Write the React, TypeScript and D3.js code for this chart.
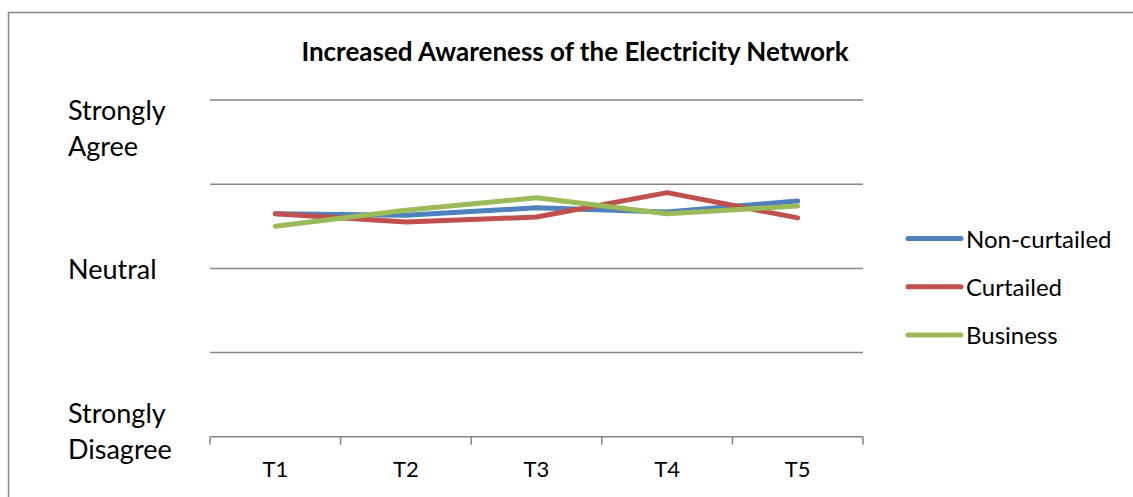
import React, { useEffect, useRef } from "react";
import * as d3 from "d3";

const categories = ["T1", "T2", "T3", "T4", "T5"];
const nonCurtailed = [3.65, 3.63, 3.72, 3.67, 3.8];
const curtailed = [3.65, 3.55, 3.61, 3.9, 3.6];
const business = [3.5, 3.69, 3.84, 3.65, 3.74];
const seriesNames = ["Non-curtailed", "Curtailed", "Business"];
const seriesColors = ["#4F81BD", "#C0504D", "#9BBB59"];
const yTickValues = [1, 2, 3, 4, 5];
const yLabels: { value: number; lines: string[] }[] = [
  { value: 5, lines: ["Strongly", "Agree"] },
  { value: 3, lines: ["Neutral"] },
  { value: 1, lines: ["Strongly", "Disagree"] },
];
const title = "Increased Awareness of the Electricity Network";

const W = 1133;
const H = 497;
const FONT = "Lato, 'Open Sans', sans-serif";

export default function App() {
  const ref = useRef<SVGSVGElement | null>(null);

  useEffect(() => {
    const svg = d3.select(ref.current);
    svg.selectAll("*").remove();

    const left = 210, right = 863, top = 100, bottom = 436.8;
    const x = d3.scaleBand<string>().domain(categories).range([left, right]);
    const y = d3.scaleLinear().domain([1, 5]).range([bottom, top]);
    const grid = "#868686";

    // frame
    svg.append("rect").attr("x", 8.5).attr("y", 12.5).attr("width", 1400).attr("height", 800)
      .attr("fill", "white").attr("stroke", grid).attr("stroke-width", 1.5);

    // title
    svg.append("text").attr("x", 575).attr("y", 61).attr("text-anchor", "middle")
      .attr("font-family", FONT).attr("font-weight", "bold").attr("font-size", 26)
      .attr("fill", "#000").text(title);

    // gridlines
    svg.append("g").selectAll("line").data(yTickValues.filter(v => v > 1)).join("line")
      .attr("x1", left).attr("x2", right)
      .attr("y1", d => y(d)).attr("y2", d => y(d))
      .attr("stroke", grid).attr("stroke-width", 1.5);

    // x axis
    const xAxis = svg.append("g");
    xAxis.append("line").attr("x1", left).attr("x2", right).attr("y1", y(1)).attr("y2", y(1))
      .attr("stroke", grid).attr("stroke-width", 1.5);
    const tickXs = [...categories.map(c => x(c)!), right];
    xAxis.selectAll("line.tick").data(tickXs).join("line").attr("class", "tick")
      .attr("x1", d => d).attr("x2", d => d).attr("y1", y(1)).attr("y2", y(1) + 8)
      .attr("stroke", grid).attr("stroke-width", 1.5);
    xAxis.selectAll("text").data(categories).join("text")
      .attr("x", d => x(d)! + x.bandwidth() / 2).attr("y", 477)
      .attr("text-anchor", "middle").attr("font-family", FONT).attr("font-size", 22)
      .attr("fill", "#000").text(d => d);

    // y labels
    const yOffsets: Record<number, number[]> = { 5: [120, 156], 3: [279], 1: [423, 459] };
    yLabels.forEach(l => {
      l.lines.forEach((ln, i) => {
        svg.append("text").attr("x", 68).attr("y", yOffsets[l.value][i])
          .attr("font-family", FONT).attr("font-size", 27).attr("fill", "#000").text(ln);
      });
    });

    // lines
    const allSeries = [nonCurtailed, curtailed, business];
    const line = d3.line<number>()
      .x((_, i) => x(categories[i])! + x.bandwidth() / 2)
      .y(d => y(d));
    allSeries.forEach((s, i) => {
      svg.append("path").datum(s).attr("d", line).attr("fill", "none")
        .attr("stroke", seriesColors[i]).attr("stroke-width", 5)
        .attr("stroke-linejoin", "round").attr("stroke-linecap", "round");
    });

    // legend
    seriesNames.forEach((n, i) => {
      const cy = 238.5 + i * 48.3;
      svg.append("line").attr("x1", 908).attr("x2", 961).attr("y1", cy).attr("y2", cy)
        .attr("stroke", seriesColors[i]).attr("stroke-width", 5).attr("stroke-linecap", "round");
      svg.append("text").attr("x", 966).attr("y", cy + 9)
        .attr("font-family", FONT).attr("font-size", 24).attr("fill", "#000").text(n);
    });
  }, []);

  return (
    <svg ref={ref} width={W} height={H}
      style={{ position: "absolute", left: 0, top: 0, background: "white" }} />
  );
}
